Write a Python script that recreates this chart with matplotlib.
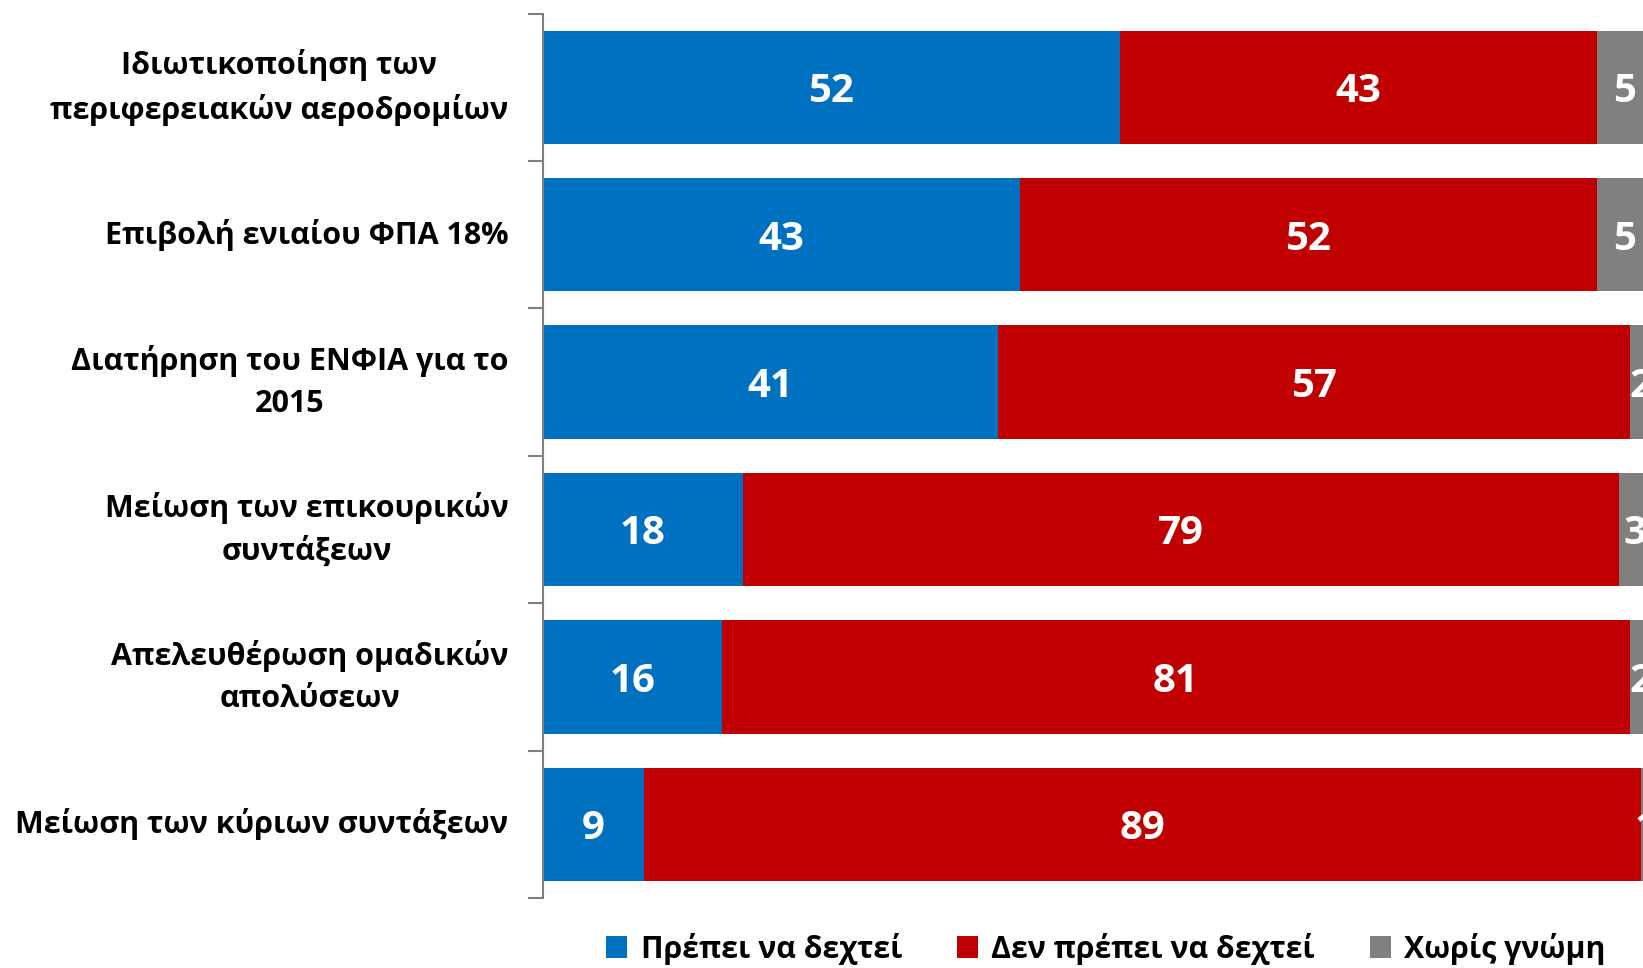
import matplotlib
matplotlib.use("Agg")
import matplotlib.pyplot as plt
import numpy as np

categories = [
    "Ιδιωτικοποίηση των\nπεριφερειακών αεροδρομίων",
    "Επιβολή ενιαίου ΦΠΑ 18%",
    "Διατήρηση του ΕΝΦΙΑ για το\n2015",
    "Μείωση των επικουρικών\nσυντάξεων",
    "Απελευθέρωση ομαδικών\nαπολύσεων",
    "Μείωση των κύριων συντάξεων",
]
should_accept = [52, 43, 41, 18, 16, 9]
should_not_accept = [43, 52, 57, 79, 81, 89]
no_opinion = [5, 5, 2, 3, 2, 1]
series_names = ["Πρέπει να δεχτεί", "Δεν πρέπει να δεχτεί", "Χωρίς γνώμη"]
colors = ["#0070C0", "#C00000", "#808080"]

FONT = ["Open Sans", "DejaVu Sans"]
plt.rcParams["font.family"] = FONT

W, H = 1643, 968
fig = plt.figure(figsize=(W / 100, H / 100), dpi=100)
ax = fig.add_axes([543 / W, 1 - 898 / H, 1109 / W, (898 - 13.6) / H])

data = np.array([should_accept, should_not_accept, no_opinion], dtype=float)
totals = data.sum(axis=0)
pct = data / totals * 100

y = np.arange(len(categories))
left = np.zeros(len(categories))
handles = []
for i in range(3):
    bars = ax.barh(y, pct[i], left=left, height=0.77, color=colors[i],
                   label=series_names[i], edgecolor="none")
    handles.append(bars)
    for j in range(len(categories)):
        cx = left[j] + pct[i][j] / 2
        ax.text(cx, y[j], f"{int(data[i][j])}", ha="center", va="center_baseline",
                color="white", fontsize=29, fontweight="bold")
    left += pct[i]

ax.set_xlim(0, 100)
ax.set_ylim(len(categories) - 0.5, -0.5)
ax.set_xticks([])
for s in ["top", "right", "bottom"]:
    ax.spines[s].set_visible(False)
ax.spines["left"].set_color("#808080")
ax.spines["left"].set_linewidth(1.5)

ax.set_yticks(np.arange(-0.5, len(categories)), labels=[""] * (len(categories) + 1))
ax.tick_params(axis="y", which="major", length=11, width=1.5, color="#808080", direction="out")
ax.set_yticks(y, minor=True)
ax.set_yticklabels(categories, minor=True, fontsize=22, fontweight="bold",
                   multialignment="center", linespacing=1.5, va="center")
ax.tick_params(axis="y", which="minor", length=0, pad=25)

fig.legend(handles=handles, labels=series_names, loc="center", ncol=3,
           bbox_to_anchor=(0.673, 0.02), frameon=False,
           prop={"size": 21.8, "weight": "bold"},
           handlelength=0.7, handleheight=0.7, handletextpad=0.45, columnspacing=1.8)

fig.savefig("out.png", dpi=100)
